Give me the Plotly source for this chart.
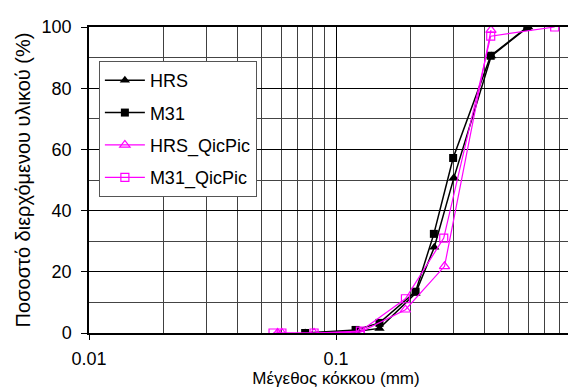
import plotly.graph_objects as go

hrs_x = [0.075, 0.12, 0.15, 0.21, 0.25, 0.30, 0.425, 0.60]
hrs_y = [0, 0.5, 1.5, 13, 28, 50.7, 90.5, 100]

m31_x = [0.075, 0.12, 0.15, 0.21, 0.249, 0.298, 0.423, 0.595]
m31_y = [0, 1.0, 3.3, 13.5, 32.4, 57.2, 90.6, 100]

hrsq_x = [0.058, 0.0604, 0.0815, 0.1255, 0.191, 0.275, 0.424]
hrsq_y = [0, 0, 0, 0.3, 7.6, 21.8, 99]

m31q_x = [0.0556, 0.0604, 0.0815, 0.1255, 0.191, 0.273, 0.423, 0.768]
m31q_y = [0, 0, 0, 0.6, 11.2, 31, 97, 100]

decades = [0.01, 0.1, 1]
decade_labels = ["0.01", "0.1", "1"]
y_ticks = [0, 20, 40, 60, 80, 100]

FONT = "Liberation Sans, Arial, sans-serif"
MAG = "#ff00ff"

fig = go.Figure()
fig.add_trace(go.Scatter(x=hrs_x, y=hrs_y, name="HRS", mode="lines+markers",
                         legendgroup="a",
                         line=dict(color="black", width=1.5),
                         marker=dict(symbol="triangle-up", size=9, color="black")))
fig.add_trace(go.Scatter(x=m31_x, y=m31_y, name="M31", mode="lines+markers",
                         legendgroup="b",
                         line=dict(color="black", width=1.5),
                         marker=dict(symbol="square", size=8, color="black")))
fig.add_trace(go.Scatter(x=hrsq_x, y=hrsq_y, name="HRS_QicPic", mode="lines+markers",
                         legendgroup="c",
                         line=dict(color=MAG, width=1.2),
                         marker=dict(symbol="triangle-up-open", size=9, color=MAG,
                                     line=dict(width=1.2))))
fig.add_trace(go.Scatter(x=m31q_x, y=m31q_y, name="M31_QicPic", mode="lines+markers",
                         legendgroup="d",
                         line=dict(color=MAG, width=1.2),
                         marker=dict(symbol="square-open", size=8, color=MAG,
                                     line=dict(width=1.2))))

fig.update_layout(
    template="none",
    width=576, height=387,
    margin=dict(l=81, r=1, t=19, b=62),
    paper_bgcolor="white", plot_bgcolor="white",
    font=dict(family=FONT, size=18, color="black"),
    legend=dict(x=0.02, y=0.889, xanchor="left", yanchor="top",
                bgcolor="white", bordercolor="#555", borderwidth=1,
                font=dict(size=18), tracegroupgap=6, itemwidth=40),
    xaxis=dict(type="log", range=[-2, 0], automargin=False,
               tickvals=decades, ticktext=decade_labels,
               ticks="outside", ticklen=5, tickcolor="black",
               ticklabelstandoff=4,
               showline=True, linecolor="black", linewidth=1.5, mirror=True,
               showgrid=True, gridcolor="black", gridwidth=1,
               minor=dict(dtick="D1", showgrid=True, gridcolor="#404040",
                          gridwidth=1, ticks=""),
               title=dict(text="Μέγεθος κόκκου (mm)", font=dict(size=17), standoff=2),
               zeroline=False),
    yaxis=dict(range=[0, 100], tickvals=y_ticks, automargin=False,
               ticks="outside", ticklen=6, tickcolor="black",
               ticklabelstandoff=6,
               showline=True, linecolor="black", linewidth=1.5, mirror=True,
               showgrid=True, gridcolor="black", gridwidth=1,
               minor=dict(dtick=10, showgrid=True, gridcolor="#444", gridwidth=1),
               title=dict(text="Ποσοστό διερχόμενου υλικού (%)", font=dict(size=20), standoff=6),
               zeroline=False),
    showlegend=True,
)

fig.write_html("out.html")
